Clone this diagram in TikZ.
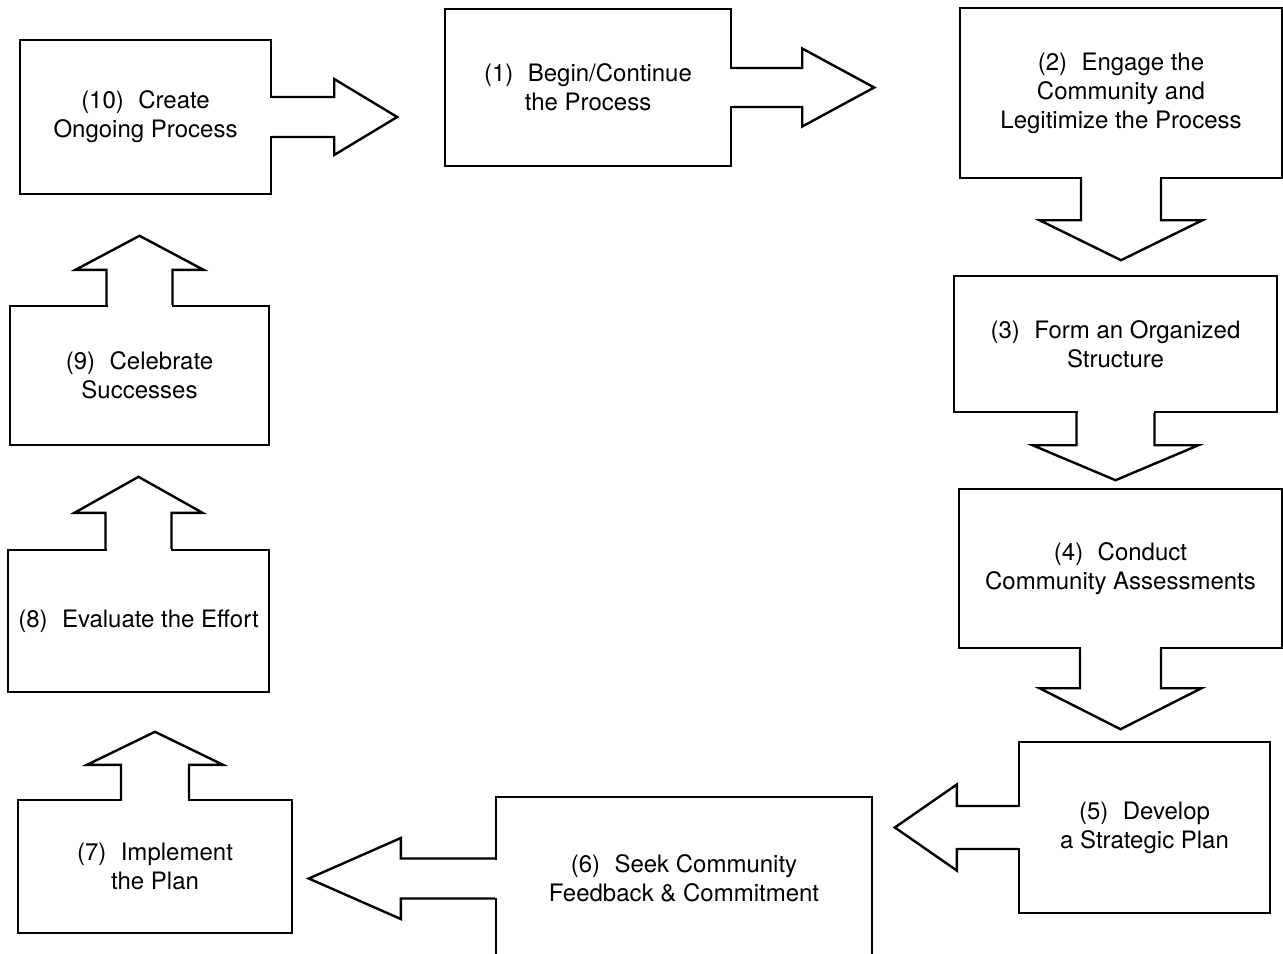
\documentclass[tikz,border=0pt]{standalone}
\usepackage{fontspec}
\setmainfont{TeX Gyre Heros}
\usetikzlibrary{calc}

\newcommand{\blockarrow}[6]{%
  \begin{scope}[shift={(#1)}, rotate=#2]
    \fill[white] (-3,{-#3+1}) rectangle (2,{#3-1});
    \draw[outline] (0,#3) -- (#4,#3) -- (#4,#5) -- ({#4+#6},0) -- (#4,-#5) -- (#4,-#3) -- (0,-#3);
  \end{scope}}

\begin{document}
\begin{tikzpicture}[x=0.5pt, y=-0.5pt,
  box/.style={draw, fill=white, line width=1.2pt, inner sep=0pt, align=center,
    font=\fontsize{12}{14.5}\selectfont},
  outline/.style={line width=1.2pt, line join=miter}]
  \useasboundingbox (0,0) rectangle (1283,953);
  \clip (0,0) rectangle (1283,953);

  \node[box, minimum width=125.5pt, minimum height=77pt] (b10) at (145.5,117) {(10)\hspace{0.6em}Create\\Ongoing Process};
  \node[box, minimum width=143pt, minimum height=78.5pt] (b1) at (588,87.5) {(1)\hspace{0.6em}Begin/Continue\\the Process};
  \node[box, minimum width=161pt, minimum height=85pt] (b2) at (1121,93) {(2)\hspace{0.6em}Engage the\\Community and\\Legitimize the Process};
  \node[box, minimum width=161.5pt, minimum height=68pt] (b3) at (1115.5,344) {(3)\hspace{0.6em}Form an Organized\\Structure};
  \node[box, minimum width=161.5pt, minimum height=79.5pt] (b4) at (1120.5,568.5) {(4)\hspace{0.6em}Conduct\\Community Assessments};
  \node[box, minimum width=125.5pt, minimum height=85.5pt] (b5) at (1144.5,827.5) {(5)\hspace{0.6em}Develop\\a Strategic Plan};
  \node[box, minimum width=188pt, minimum height=81.5pt] (b6) at (684,878.5) {(6)\hspace{0.6em}Seek Community\\Feedback \& Commitment};
  \node[box, minimum width=137pt, minimum height=66.5pt] (b7) at (155,866.5) {(7)\hspace{0.6em}Implement\\the Plan};
  \node[box, minimum width=130.5pt, minimum height=71pt] (b8) at (138.5,621) {(8)\hspace{0.6em}Evaluate the Effort};
  \node[box, minimum width=129.5pt, minimum height=69.5pt] (b9) at (139.5,375.5) {(9)\hspace{0.6em}Celebrate\\Successes};

  \blockarrow{b10.east}{0}{20}{62}{38}{63}
  \blockarrow{b1.east}{0}{19.5}{70}{39}{72}
  \blockarrow{b2.south}{-90}{40}{41}{81.5}{40}
  \blockarrow{b3.south}{-90}{39}{32}{83}{35}
  \blockarrow{b4.south}{-90}{40.5}{39}{81}{41}
  \blockarrow{b5.west}{180}{21.5}{61}{43}{62}
  \blockarrow{b6.west}{180}{20}{94}{40.5}{92}
  \blockarrow{b7.north}{90}{34}{34}{68}{33}
  \blockarrow{b8.north}{90}{33}{36}{64}{36}
  \blockarrow{b9.north}{90}{33}{35}{64}{34}
\end{tikzpicture}
\end{document}
